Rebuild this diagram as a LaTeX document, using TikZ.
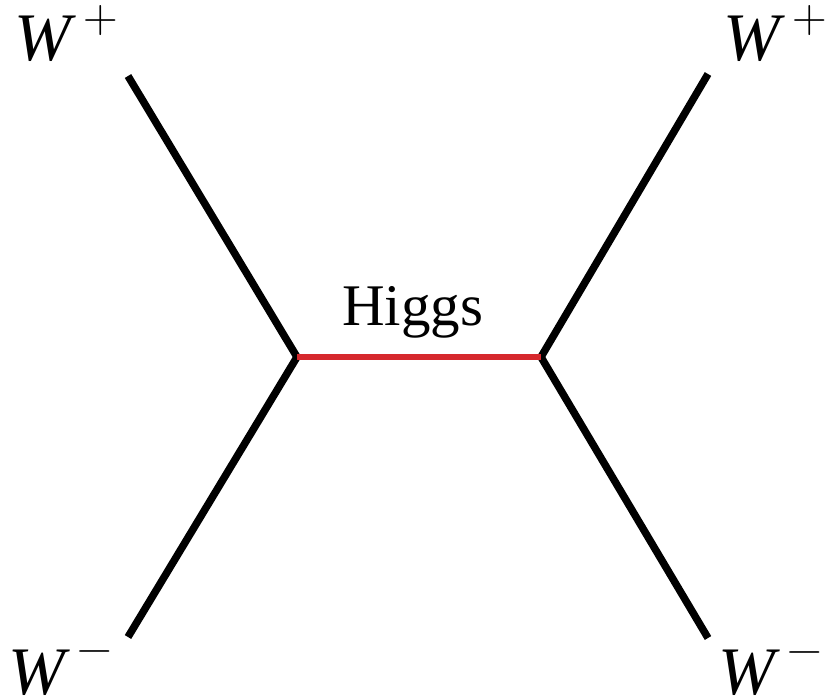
\documentclass[tikz,border=0pt]{standalone}
\usepackage[no-math]{fontspec}
\setmainfont{Liberation Serif}
\newfontfamily\lmrfont{Latin Modern Roman}
\definecolor{higgsred}{RGB}{214,40,45}
\tikzset{
  wline/.style={line width=7.5pt, black},
  hline/.style={line width=6pt, higgsred},
  wlab/.style={inner sep=0pt, anchor=base west, font=\fontsize{68}{80}\selectfont\itshape},
  slab/.style={inner sep=0pt, anchor=center, font=\lmrfont\fontsize{48}{56}\selectfont},
  hlab/.style={inner sep=0pt, anchor=base west, font=\fontsize{59}{70}\selectfont}
}
\begin{document}
\begin{tikzpicture}[x=1pt,y=-1pt]
\useasboundingbox (0,0) rectangle (825,697);
\coordinate (vl) at (297,357);
\coordinate (vr) at (541,357);
\coordinate (tl) at (128,76);
\coordinate (bl) at (128,637);
\coordinate (tr) at (708,74);
\coordinate (br) at (708,638);
\draw[wline] (tl) -- (vl) -- (bl);
\draw[wline] (tr) -- (vr) -- (br);
\draw[hline] (vl) -- (vr);
\node[wlab] (lwp) at (14,60) {W};
\node[slab] (lwps) at (101,21) {+};
\node[wlab] (rwp) at (723,60) {W};
\node[slab] (rwps) at (810,21) {+};
\node[wlab] (lwm) at (8,694) {W};
\node[slab] (lwms) at (95,657) {−};
\node[wlab] (rwm) at (718,694) {W};
\node[slab] (rwms) at (805,658) {−};
\node[hlab] (hl) at (342,325) {Higgs};
\end{tikzpicture}
\end{document}
